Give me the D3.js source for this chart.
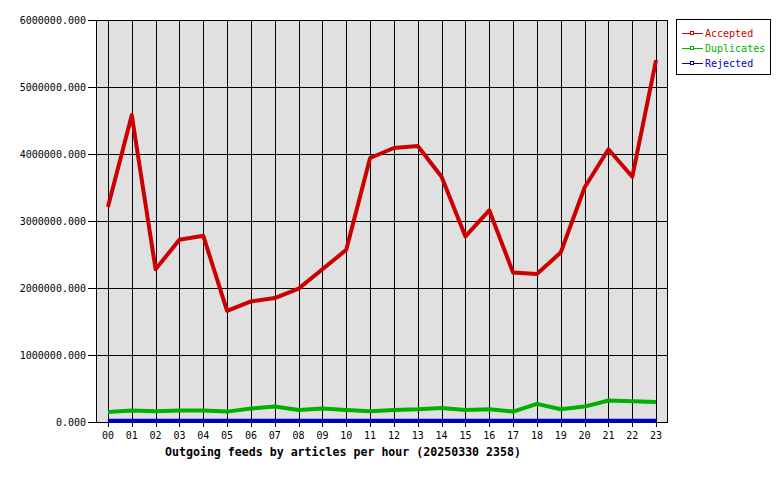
<!DOCTYPE html>
<html><head><meta charset="utf-8">
<script src="https://cdn.jsdelivr.net/npm/d3@7"></script>
<style>body{margin:0;background:#fff}svg{display:block}text{font-family:"DejaVu Sans Mono",monospace}</style>
</head><body><svg id="c" width="780" height="480"></svg>
<script>
const hours = ["00","01","02","03","04","05","06","07","08","09","10","11","12","13","14","15","16","17","18","19","20","21","22","23"];
const accepted = [3210000,4580000,2280000,2720000,2780000,1660000,1800000,1850000,1990000,2280000,2570000,3940000,4090000,4120000,3660000,2770000,3160000,2230000,2210000,2530000,3500000,4070000,3660000,5400000];
const duplicates = [150000,170000,160000,170000,170000,155000,200000,230000,180000,200000,180000,160000,180000,190000,210000,180000,190000,155000,270000,190000,230000,320000,310000,300000];
const rejected = [20000,20000,20000,20000,20000,20000,20000,20000,20000,20000,20000,20000,20000,20000,20000,20000,20000,20000,20000,20000,20000,20000,20000,20000];
const yTicks = [0,1000000,2000000,3000000,4000000,5000000,6000000];
const seriesNames = ["Accepted","Duplicates","Rejected"];
const seriesColors = ["#cc0000","#00b000","#0000cc"];
const title = "Outgoing feeds by articles per hour (20250330 2358)";

const svg = d3.select("#c");
const L=96,R=668,T=20,B=422;
const x = d3.scalePoint().domain(hours).range([L,R]).padding(0.5);
const y = d3.scaleLinear().domain([0,6000000]).range([B,T]);

svg.append("rect").attr("x",L).attr("y",T).attr("width",R-L).attr("height",B-T).attr("fill","#e0e0e0");
const g = svg.append("g").attr("shape-rendering","crispEdges");
yTicks.forEach(t=>{
  g.append("line").attr("x1",L-8).attr("x2",R).attr("y1",y(t)+0.5).attr("y2",y(t)+0.5).attr("stroke","#000");
  svg.append("text").attr("x",86).attr("y",y(t)+4).attr("text-anchor","end").attr("font-size",10).text(d3.format(".3f")(t));
});
hours.forEach(h=>{
  const xx=Math.round(x(h))+0.5;
  g.append("line").attr("x1",xx).attr("x2",xx).attr("y1",T).attr("y2",B+5).attr("stroke","#000");
  svg.append("text").attr("x",x(h)).attr("y",439).attr("text-anchor","middle").attr("font-size",10).text(h);
});
g.append("rect").attr("x",L+0.5).attr("y",T+0.5).attr("width",R-L-1).attr("height",B-T).attr("fill","none").attr("stroke","#000");

const line = d3.line().x((d,i)=>x(hours[i])).y(d=>y(d));
[accepted,duplicates,rejected].forEach((s,k)=>{
  svg.append("path").datum(s).attr("d",line).attr("fill","none").attr("stroke",seriesColors[k]).attr("stroke-width",4).attr("stroke-linejoin","round");
});

svg.append("text").attr("x",165).attr("y",456).attr("font-size",11.6).attr("font-weight","bold").text(title);

const lg = svg.append("g");
lg.append("rect").attr("x",676.5).attr("y",19.5).attr("width",94).attr("height",55).attr("fill","#fff").attr("stroke","#000").attr("shape-rendering","crispEdges");
seriesNames.forEach((n,i)=>{
  const yy=33+i*15;
  lg.append("line").attr("x1",682).attr("x2",703).attr("y1",yy+0.5).attr("y2",yy+0.5).attr("stroke",seriesColors[i]).attr("shape-rendering","crispEdges");
  lg.append("rect").attr("x",690.5).attr("y",yy-1.5).attr("width",3).attr("height",3).attr("fill","#fff").attr("stroke",seriesColors[i]).attr("shape-rendering","crispEdges");
  lg.append("text").attr("x",705).attr("y",yy+4).attr("font-size",10).attr("fill",seriesColors[i]).text(n);
});
</script></body></html>
